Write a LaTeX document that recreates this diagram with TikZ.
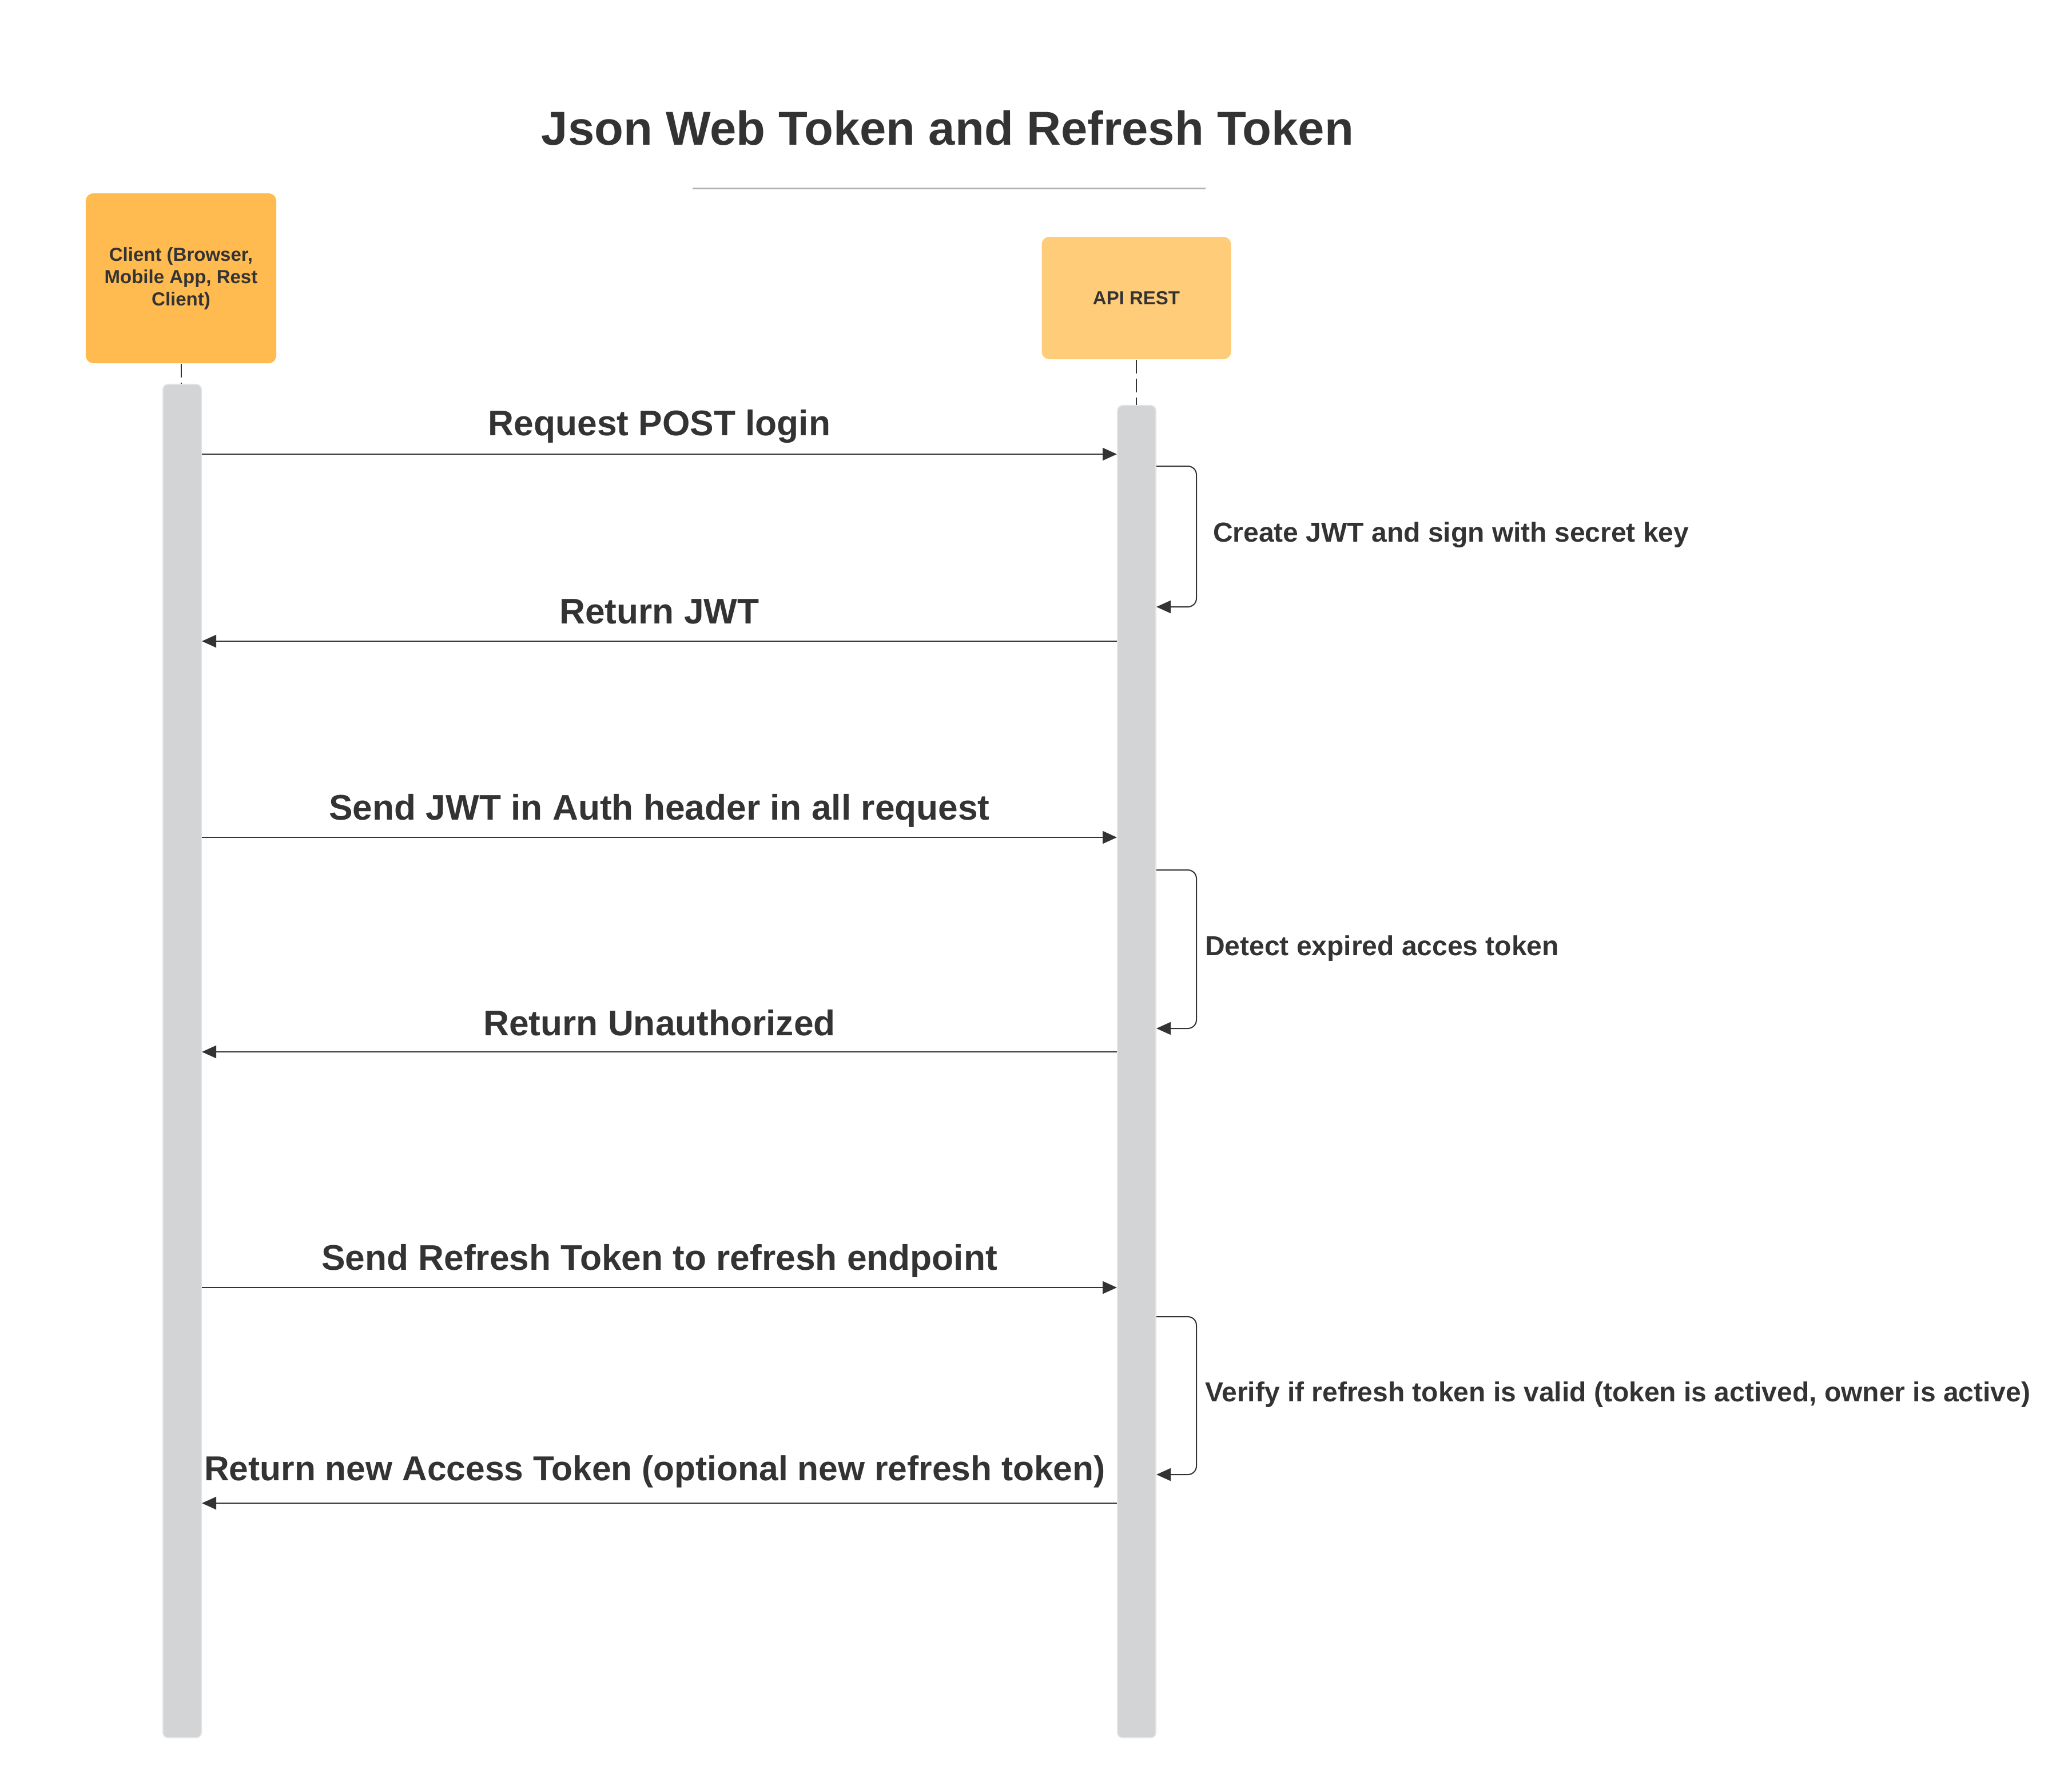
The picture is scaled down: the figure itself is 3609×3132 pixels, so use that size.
\documentclass[tikz,border=0pt]{standalone}
\usepackage{fontspec}
\setmainfont{Liberation Sans}
\usetikzlibrary{arrows.meta}
\definecolor{txt}{HTML}{333333}
\definecolor{clientfill}{HTML}{FFBB4F}
\definecolor{apifill}{HTML}{FFCC7A}
\definecolor{barfill}{HTML}{D3D4D6}
\definecolor{barline}{HTML}{E3E3E3}
\definecolor{rulecol}{HTML}{B3B3B3}
\begin{document}
\begin{tikzpicture}[x=0.2pt,y=-0.2pt,
  actor/.style={rounded corners=2.6pt, inner sep=0pt, align=center, text=txt, font=\fontsize{6.6}{7.8}\selectfont\bfseries},
  bar/.style={fill=barfill, draw=barline, line width=0.4pt, rounded corners=1.8pt, minimum width=13.4pt, inner sep=0pt},
  lifeline/.style={draw=txt, line width=0.4pt, dash pattern=on 4.8pt off 1.8pt},
  msg/.style={draw=txt, line width=0.45pt, -{Triangle[length=5pt,width=4.4pt]}},
  msglabel/.style={anchor=base, text=txt, font=\fontsize{12.45}{14}\selectfont\bfseries, inner sep=0pt},
  selflabel/.style={anchor=base west, text=txt, font=\fontsize{9.6}{11}\selectfont\bfseries, inner sep=0pt},
  selfloop/.style={draw=txt, line width=0.4pt, rounded corners=3pt, -{Triangle[length=5pt,width=4.4pt]}}
]
\useasboundingbox (0,0) rectangle (3609,3132);

% title
\node[anchor=base, text=txt, font=\fontsize{16.65}{19}\selectfont\bfseries, inner sep=0pt] (title) at (1657,253) {Json Web Token and Refresh Token};
\coordinate (rl) at (1211,329);
\coordinate (rr) at (2108,329);
\draw[draw=rulecol, line width=0.6pt] (rl) -- (rr);

% actors
\node[actor, fill=clientfill, minimum width=66.6pt, minimum height=59.4pt] (client) at (316.5,486.5) {Client (Browser,\\Mobile App, Rest\\Client)};
\node[actor, fill=apifill, minimum width=66.2pt, minimum height=42.8pt] (api) at (1987,521) {API REST};

% activation bars
\node[bar, minimum height=473.2pt] (cbar) at (318.5,1855) {};
\node[bar, minimum height=465.8pt] (abar) at (1987.5,1873.5) {};

% lifelines
\draw[lifeline] (client.south) -- (client.south |- cbar.north);
\draw[lifeline] (api.south) -- (api.south |- abar.north);

% message rows
\coordinate (m1) at (0,794);
\coordinate (m2) at (0,1121);
\coordinate (m3) at (0,1464);
\coordinate (m4) at (0,1839);
\coordinate (m5) at (0,2251);
\coordinate (m6) at (0,2628);

\draw[msg] (cbar.east |- m1) -- (abar.west |- m1);
\node[msglabel] (l1) at (1153,761) {Request POST login};

\draw[msg] (abar.west |- m2) -- (cbar.east |- m2);
\node[msglabel] (l2) at (1153,1090) {Return JWT};

\draw[msg] (cbar.east |- m3) -- (abar.west |- m3);
\node[msglabel] (l3) at (1153,1433) {Send JWT in Auth header in all request};

\draw[msg] (abar.west |- m4) -- (cbar.east |- m4);
\node[msglabel] (l4) at (1153,1810) {Return Unauthorized};

\draw[msg] (cbar.east |- m5) -- (abar.west |- m5);
\node[msglabel] (l5) at (1153,2220) {Send Refresh Token to refresh endpoint};

\draw[msg] (abar.west |- m6) -- (cbar.east |- m6);
\node[msglabel, font=\fontsize{12.1}{14}\selectfont\bfseries] (l6) at (1145,2588) {Return new Access Token (optional new refresh token)};

% self loops
\coordinate (s1t) at (2092,815);
\coordinate (s1b) at (2092,1061);
\draw[selfloop] (abar.east |- s1t) -- (s1t) -- (s1b) -- (abar.east |- s1b);
\node[selflabel] (sl1) at (2120,947) {Create JWT and sign with secret key};

\coordinate (s2t) at (2092,1521);
\coordinate (s2b) at (2092,1798);
\draw[selfloop] (abar.east |- s2t) -- (s2t) -- (s2b) -- (abar.east |- s2b);
\node[selflabel] (sl2) at (2106,1670) {Detect expired acces token};

\coordinate (s3t) at (2092,2302);
\coordinate (s3b) at (2092,2578);
\draw[selfloop] (abar.east |- s3t) -- (s3t) -- (s3b) -- (abar.east |- s3b);
\node[selflabel] (sl3) at (2106,2450) {Verify if refresh token is valid (token is actived, owner is active)};
\end{tikzpicture}
\end{document}
